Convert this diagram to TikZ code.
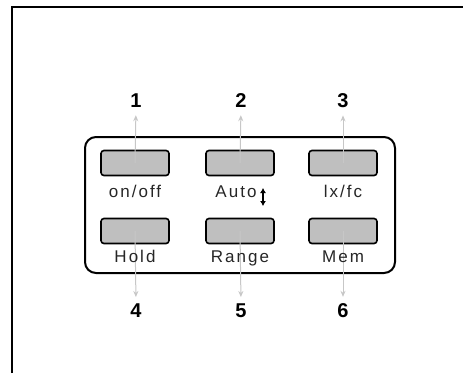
\documentclass[tikz,border=0pt]{standalone}
\usepackage{fontspec}
\setmainfont{Liberation Sans}
\usepackage{tikz}
\usetikzlibrary{arrows.meta}

\tikzset{
   key/.style={draw=black,line width=1.6pt,fill=black!25,rounded corners=3pt,
      minimum width=68pt,minimum height=25pt,inner sep=0pt},
   keyname/.style={inner sep=0pt,text=black!85,font=\addfontfeatures{LetterSpace=12}\fontsize{17}{17}\selectfont},
   keynum/.style={inner sep=0pt,font=\bfseries\fontsize{20}{20}\selectfont},
   pointer/.style={draw=black!22,line width=1pt,-{Stealth[length=6pt,width=5pt]}}
}

\begin{document}
\begin{tikzpicture}[x=1pt,y=-1pt]
   \useasboundingbox (0,0) rectangle (463,373);

   % frame
   \draw[line width=2pt] (12,373) -- (12,7) -- (463,7);

   % panel
   \draw[line width=2pt,rounded corners=11pt] (85,137) rectangle (395,273);

   % keys
   \node[key] (onoff) at (135,163) {};
   \node[key] (auto)  at (240,163) {};
   \node[key] (unit)  at (343,163) {};
   \node[key] (hold)  at (135,231) {};
   \node[key] (range) at (240,231) {};
   \node[key] (mem)   at (343,231) {};

   % numbers
   \node[keynum,anchor=base] (n1) at (136,107) {1};
   \node[keynum,anchor=base] (n2) at (241,107) {2};
   \node[keynum,anchor=base] (n3) at (343,107) {3};
   \node[keynum,anchor=base] (n4) at (136,317) {4};
   \node[keynum,anchor=base] (n5) at (241,317) {5};
   \node[keynum,anchor=base] (n6) at (343,317) {6};

   % pointers
   \draw[pointer,shorten >=8pt] (onoff.center) -- (n1.south);
   \draw[pointer,shorten >=8pt] (auto.center) -- (n2.south);
   \draw[pointer,shorten >=8pt] (unit.center) -- (n3.south);
   \draw[pointer,shorten >=6pt] (hold.center) -- (n4.north);
   \draw[pointer,shorten >=6pt] (range.center) -- (n5.north);
   \draw[pointer,shorten >=6pt] (mem.center) -- (n6.north);

   % key names
   \node[keyname,anchor=base] (onofftext) at (135,197) {on/off};
   \node[keyname,anchor=base] (autotext)  at (236,197) {Auto};
   \node[keyname,anchor=base] (unittext)  at (343,197) {lx/fc};
   \node[keyname,anchor=base] (holdtext)  at (135,262) {Hold};
   \node[keyname,anchor=base] (rangetext) at (240,262) {Range};
   \node[keyname,anchor=base] (memtext)   at (343,262) {Mem};
   \coordinate (updown) at (263,197);
   \draw[line width=2pt,{Latex[length=5pt,width=6pt]}-{Latex[length=5pt,width=6pt]}]
      ([yshift=-9pt]updown) -- ([yshift=9pt]updown);
\end{tikzpicture}
\end{document}
